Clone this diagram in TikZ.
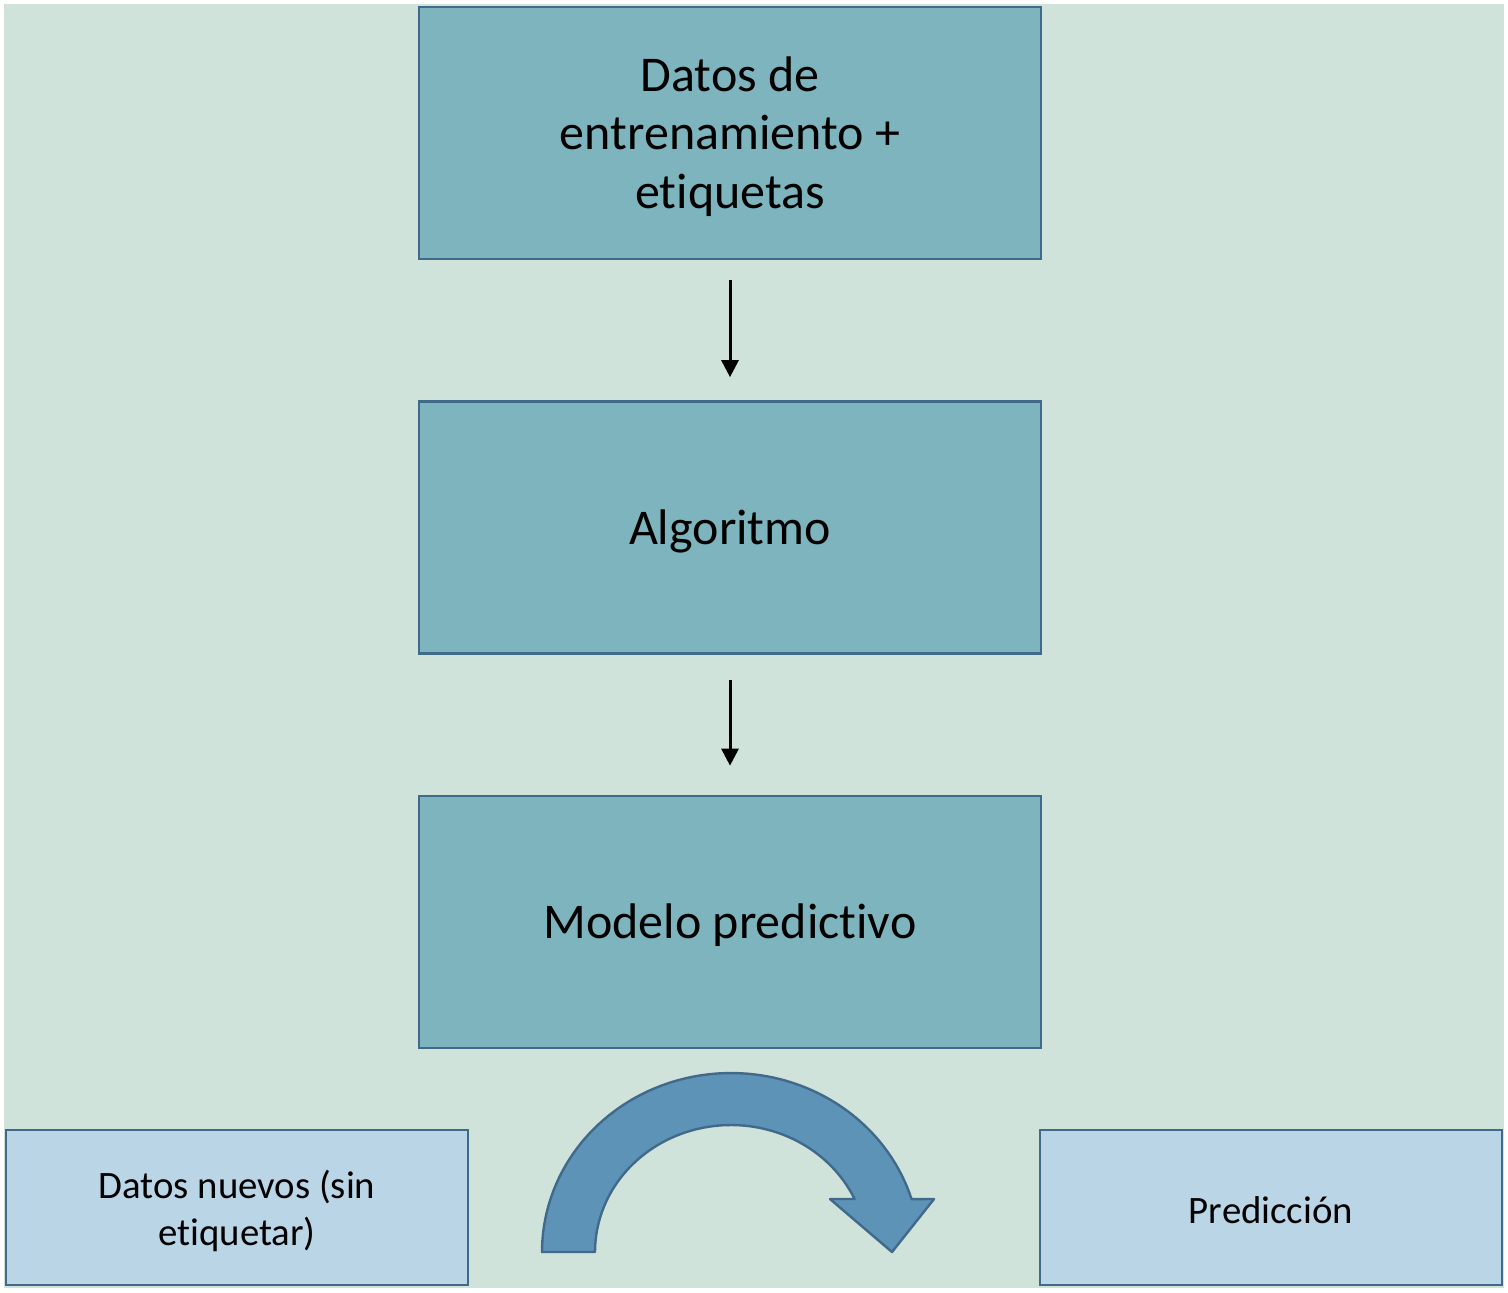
\documentclass[tikz,border=0pt]{standalone}
\usepackage{fontspec}
\setmainfont{Carlito}[Ligatures=NoCommon]
\usetikzlibrary{arrows.meta}
\definecolor{bgc}{HTML}{D0E3DA}
\definecolor{topfill}{HTML}{7EB4BE}
\definecolor{edgec}{HTML}{41698A}
\definecolor{lowfill}{HTML}{B9D5E6}
\definecolor{arcfill}{HTML}{5D93B7}
\tikzset{
  mainbox/.style={draw=edgec, line width=1.35pt, fill=topfill, minimum width=311pt, minimum height=126pt, inner sep=0pt},
  maintext/.style={align=center, inner sep=0pt, yshift=-1.8pt, font=\fontsize{25}{29.25}\selectfont},
  sidebox/.style={draw=edgec, line width=1.35pt, fill=lowfill, minimum width=231pt, minimum height=77.5pt, inner sep=0pt},
  sidetext/.style={align=center, inner sep=0pt, yshift=-1.5pt, font=\fontsize{19.4}{23.5}\selectfont},
  flowarrow/.style={line width=1.5pt, -{Triangle[length=8.5pt,width=8.5pt]}},
}
\begin{document}
\begin{tikzpicture}[x=0.5pt,y=-0.5pt]
\useasboundingbox (0,0) rectangle (1508,1292);
\fill[bgc] (4,4) rectangle (1504,1288);
\node[mainbox, label={[maintext]center:Datos de\\entrenamiento +\\etiquetas}] (datos) at (730,133) {};
\node[mainbox, label={[maintext]center:Algoritmo}] (algo) at (730,527.5) {};
\node[mainbox, label={[maintext]center:Modelo predictivo}] (modelo) at (730,922) {};
\node[sidebox, label={[sidetext]center:Datos nuevos (sin\\etiquetar)}] (nuevos) at (237,1207.5) {};
\node[sidebox, label={[sidetext]center:Predicción}] (pred) at (1271,1207.5) {};
\draw[flowarrow, shorten <=10pt, shorten >=11.5pt] (datos.south) -- (algo.north);
\draw[flowarrow, shorten <=12.5pt, shorten >=14.5pt] (algo.south) -- (modelo.north);
\draw[draw=edgec, line width=1.2pt, fill=arcfill, line join=round]
  (542,1252) -- plot[domain=180:17.2, samples=80, variable=\t] ({731+189*cos(\t)},{1252-179*sin(\t)})
  -- (934,1199) -- (892,1252) -- (830,1199)
  -- plot[domain=24.7:180, samples=80, variable=\t] ({731+136*cos(\t)},{1252-127*sin(\t)})
  -- cycle;
\end{tikzpicture}
\end{document}
